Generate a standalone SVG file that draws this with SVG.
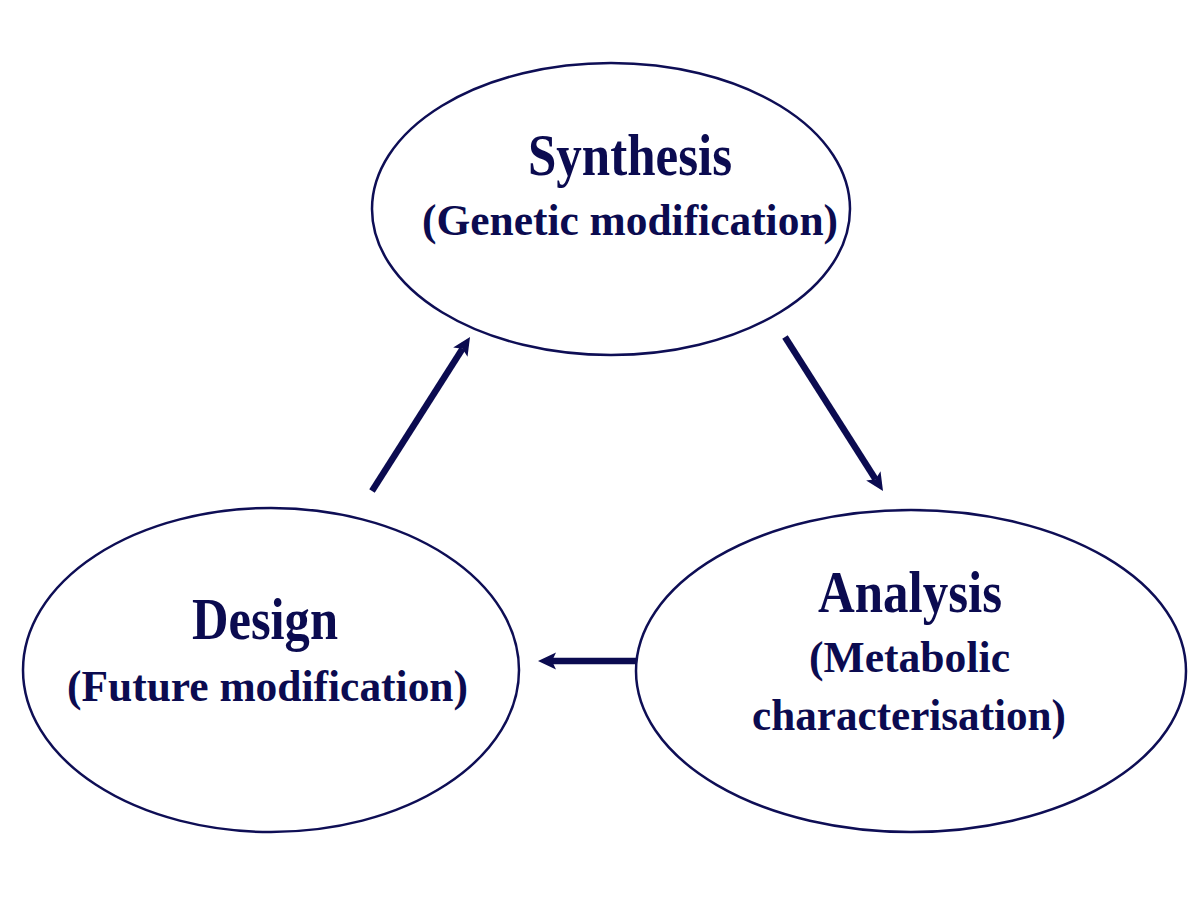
<svg xmlns="http://www.w3.org/2000/svg" width="1200" height="900" viewBox="0 0 1200 900">
<style>
.node ellipse{fill:#ffffff;stroke:#0e0e55;stroke-width:2.5}
.title{font-family:"Liberation Serif","Times New Roman",serif;font-weight:bold;font-size:60px;fill:#0b0b50}
.sub{font-family:"Liberation Serif","Times New Roman",serif;font-weight:bold;font-size:45px;fill:#0b0b50}
.conn line{stroke:#0b0b50;stroke-width:6.5}
</style>
<defs>
<marker id="ah" markerUnits="userSpaceOnUse" markerWidth="20" markerHeight="18" refX="4" refY="8.5" orient="auto">
<path d="M0,0 L18,8.5 L0,17 L4,8.5 z" fill="#0b0b50"/>
</marker>
</defs>
<rect width="1200" height="900" fill="#ffffff"/>
<g id="synthesis" class="node">
<ellipse cx="611" cy="209" rx="239" ry="146"/>
<text class="title" x="528" y="175" textLength="204" lengthAdjust="spacingAndGlyphs">Synthesis</text>
<text class="sub" x="422" y="235" textLength="416" lengthAdjust="spacingAndGlyphs">(Genetic modification)</text>
</g>
<g id="design" class="node">
<ellipse cx="271" cy="670" rx="248" ry="162"/>
<text class="title" x="192" y="639" textLength="146" lengthAdjust="spacingAndGlyphs">Design</text>
<text class="sub" x="67" y="701" textLength="401" lengthAdjust="spacingAndGlyphs">(Future modification)</text>
</g>
<g id="analysis" class="node">
<ellipse cx="911" cy="671" rx="275" ry="161"/>
<text class="title" x="818" y="612" textLength="184" lengthAdjust="spacingAndGlyphs">Analysis</text>
<text class="sub" x="809" y="672" textLength="201" lengthAdjust="spacingAndGlyphs">(Metabolic</text>
<text class="sub" x="752" y="730" textLength="314" lengthAdjust="spacingAndGlyphs">characterisation)</text>
</g>
<g id="connectors" class="conn">
<line x1="372" y1="491" x2="462.5" y2="348.8" marker-end="url(#ah)"/>
<line x1="785" y1="337" x2="875.5" y2="479.2" marker-end="url(#ah)"/>
<line x1="636" y1="661" x2="552" y2="661" marker-end="url(#ah)"/>
</g>
</svg>
